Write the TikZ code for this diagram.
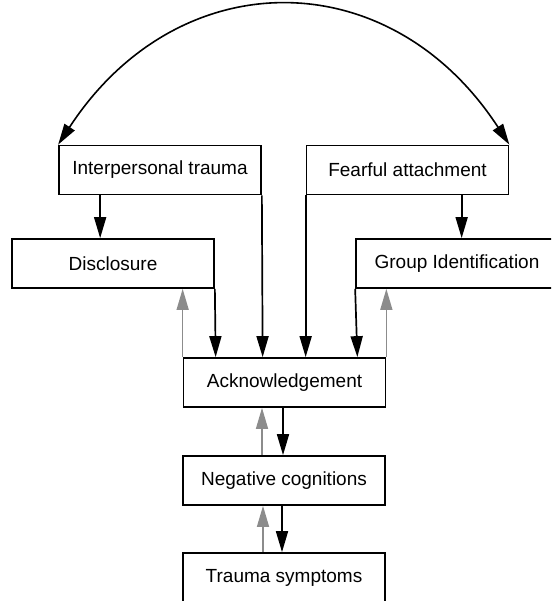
\documentclass[tikz,border=0pt]{standalone}
\usepackage{fontspec}
\setmainfont{Liberation Sans}
\usepackage{xcolor}
\usepackage{tikz}
\usetikzlibrary{calc,arrows.meta}
\definecolor{ink}{HTML}{000000}
\definecolor{back}{HTML}{8C8C8C}
\tikzset{
  box/.style={draw=ink, line width=1.7pt, fill=white, minimum width=202pt, minimum height=49pt,
    inner sep=0pt, font=\fontsize{19}{22}\selectfont},
  mainline/.style={draw=ink, line width=1.7pt, -{Triangle[length=21pt,width=12pt]}},
  backline/.style={draw=back, line width=1.4pt, -{Triangle[length=21pt,width=12pt]}},
  bothline/.style={draw=ink, line width=1.6pt, {Triangle[length=21pt,width=12pt]}-{Triangle[length=21pt,width=12pt]}},
}

\begin{document}
\begin{tikzpicture}[x=1pt,y=-1pt]
  \useasboundingbox (0,0) rectangle (551,601);
  \clip (0,0) rectangle (551,601);

  \node[box] (IT) at (160,170) {Interpersonal trauma};
  \node[box] (FA) at (407.5,170) {Fearful attachment};
  \node[box] (DI) at (113,263.5) {Disclosure};
  \node[box] (GI) at (457,263.5) {Group Identification};
  \node[box] (AC) at (284.5,382.5) {Acknowledgement};
  \node[box] (NC) at (284,480.5) {Negative cognitions};
  \node[box] (TS) at (284,577.5) {Trauma symptoms};

  \draw[bothline] (IT.north west) .. controls (178,-39) and (390,-39) .. (FA.north east);

  \draw[mainline] ([xshift=42pt]IT.south west) -- ([xshift=42pt]IT.south west |- DI.north);
  \draw[mainline] ([xshift=156pt]FA.south west) -- ([xshift=156pt]FA.south west |- GI.north);

  \draw[mainline] (DI.south east) -- ([xshift=33pt]AC.north west);
  \draw[mainline] (IT.south east) -- ([xshift=80pt]AC.north west);
  \draw[mainline] (FA.south west) -- (FA.south west |- AC.north);
  \draw[mainline] (GI.south west) -- ([xshift=-29pt]AC.north east);
  \draw[backline] (AC.north west) -- (AC.north west |- DI.south);
  \draw[backline] (AC.north east) -- (AC.north east |- GI.south);

  \draw[mainline] ([xshift=-1.5pt]AC.south) -- ([xshift=-1.5pt]AC.south |- NC.north);
  \draw[backline] ([xshift=-22pt]NC.north) -- ([xshift=-22pt]NC.north |- AC.south);
  \draw[mainline] ([xshift=-2pt]NC.south) -- ([xshift=-2pt]NC.south |- TS.north);
  \draw[backline] ([xshift=-21pt]TS.north) -- ([xshift=-21pt]TS.north |- NC.south);
\end{tikzpicture}
\end{document}
